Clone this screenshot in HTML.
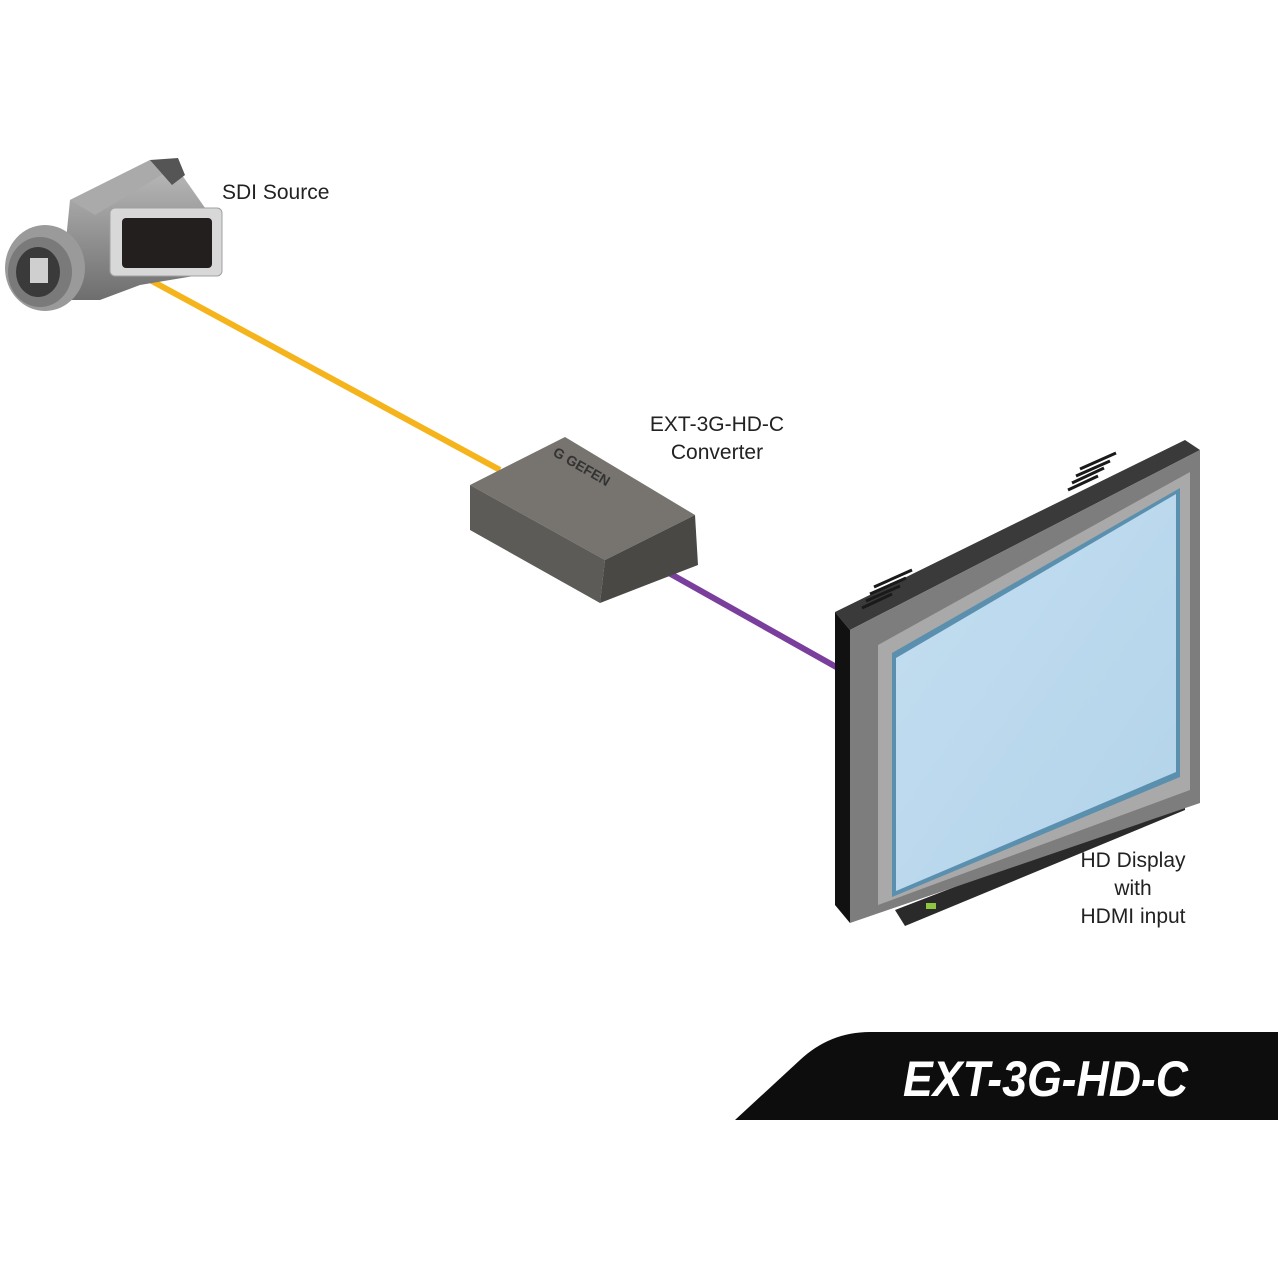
<!DOCTYPE html>
<html><head><meta charset="utf-8"><style>
html,body{margin:0;padding:0;background:#fff}
svg{display:block}
text{font-family:"Liberation Sans",sans-serif;fill:#222}
</style></head><body>
<svg width="1280" height="1280" viewBox="0 0 1280 1280" xmlns="http://www.w3.org/2000/svg">
<defs>
<linearGradient id="cam" x1="0" y1="0" x2="0" y2="1"><stop offset="0" stop-color="#bdbdbd"/><stop offset="1" stop-color="#6e6e6e"/></linearGradient>
<linearGradient id="scr" x1="0" y1="0" x2="1" y2="1"><stop offset="0" stop-color="#c4def0"/><stop offset="1" stop-color="#b2d3ea"/></linearGradient>
</defs>
<line x1="150" y1="280" x2="500" y2="470" stroke="#f5b41c" stroke-width="6"/>
<line x1="660" y1="568" x2="838" y2="668" stroke="#7a3f9c" stroke-width="6"/>
<polygon points="70,200 150,160 175,160 182,175 210,215 200,275 140,285 100,300 60,300" fill="url(#cam)"/>
<polygon points="70,200 150,160 170,170 95,215" fill="#aaa"/>
<polygon points="150,160 178,158 185,175 172,185" fill="#555"/>
<ellipse cx="45" cy="268" rx="40" ry="43" fill="#9a9a9a"/>
<ellipse cx="40" cy="272" rx="32" ry="35" fill="#7a7a7a"/>
<ellipse cx="38" cy="272" rx="22" ry="25" fill="#3a3a3a"/>
<rect x="30" y="258" width="18" height="25" fill="#cfcfcf"/>
<rect x="110" y="208" width="112" height="68" rx="5" fill="#d8d8d8" stroke="#a0a0a0"/>
<rect x="122" y="218" width="90" height="50" rx="4" fill="#231f1f"/>
<polygon points="470,485 565,437 695,515 605,560" fill="#77746f"/>
<polygon points="470,485 605,560 600,603 470,530" fill="#5d5b58"/>
<polygon points="605,560 695,515 698,565 600,603" fill="#4a4845"/>
<text x="0" y="0" transform="translate(552,455) rotate(30)" font-size="14" font-weight="bold" style="fill:#333">G GEFEN</text>
<polygon points="895,910 1185,798 1185,810 905,926" fill="#2a2a2a"/>
<polygon points="835,612 1185,440 1200,450 850,630" fill="#3a3a3a"/>
<polygon points="835,612 850,630 850,923 835,905" fill="#111"/>
<polygon points="850,630 1200,450 1200,803 850,923" fill="#7d7d7d"/>
<polygon points="878,645 1190,472 1190,790 878,905" fill="#a9a9a9"/>
<polygon points="892,653 1180,488 1180,777 892,897" fill="#5a8fae"/>
<polygon points="896,658 1176,494 1176,772 896,891" fill="url(#scr)"/>
<rect x="926" y="903" width="10" height="6" fill="#8dc63f"/>
<g stroke="#1a1a1a" stroke-width="3">
<line x1="1068" y1="490" x2="1098" y2="476"/>
<line x1="1072" y1="483" x2="1104" y2="468"/>
<line x1="1076" y1="476" x2="1110" y2="461"/>
<line x1="1080" y1="469" x2="1116" y2="453"/>
<line x1="862" y1="608" x2="892" y2="594"/>
<line x1="866" y1="601" x2="900" y2="586"/>
<line x1="870" y1="594" x2="906" y2="578"/>
<line x1="874" y1="587" x2="912" y2="570"/>
</g>
<text x="222" y="199" font-size="21">SDI Source</text>
<text x="717" y="431" font-size="21" text-anchor="middle">EXT-3G-HD-C</text>
<text x="717" y="459" font-size="21" text-anchor="middle">Converter</text>
<text x="1133" y="867" font-size="21" text-anchor="middle">HD Display</text>
<text x="1133" y="895" font-size="21" text-anchor="middle">with</text>
<text x="1133" y="923" font-size="21" text-anchor="middle">HDMI input</text>
<path d="M735,1120 L800,1060 Q830,1032 870,1032 L1278,1032 L1278,1120 Z" fill="#0d0d0d"/>
<text x="903" y="1096" font-size="50" font-weight="bold" font-style="italic" style="fill:#fff" textLength="285" lengthAdjust="spacingAndGlyphs">EXT-3G-HD-C</text>
</svg>
</body></html>
